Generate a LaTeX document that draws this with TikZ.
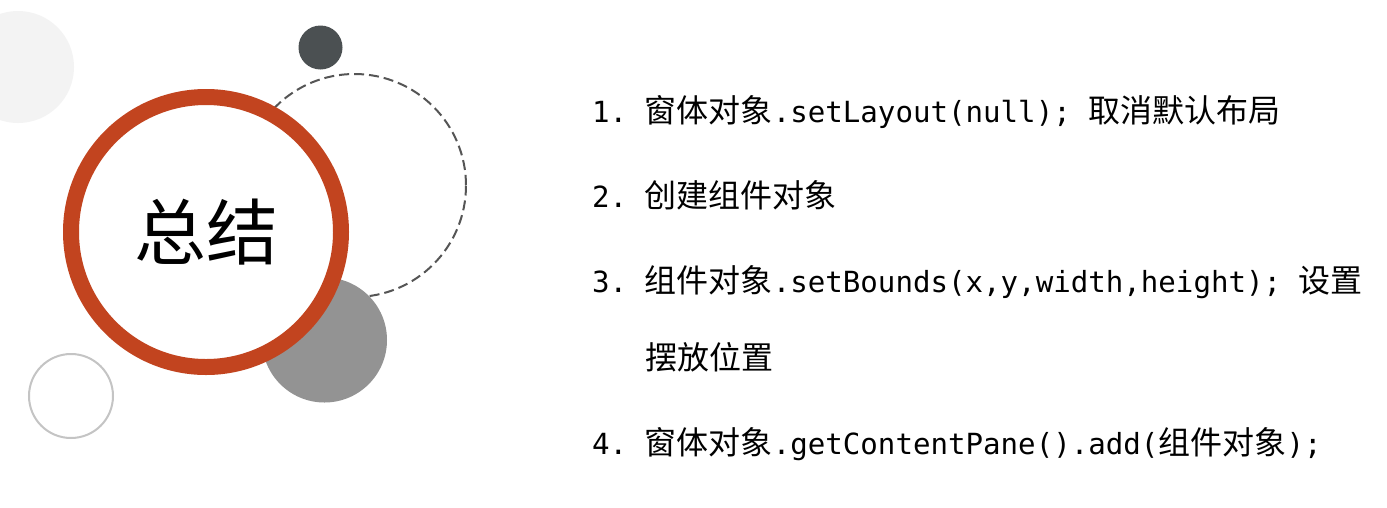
\documentclass[tikz,border=0pt]{standalone}
\usepackage{fontspec}
\setmonofont{DejaVu Sans Mono}[Scale=0.91]
\newfontfamily\cjk{Noto Sans CJK SC}
\definecolor{rust}{HTML}{C2441F}
\definecolor{darkslate}{HTML}{4B5052}
\definecolor{midgray}{HTML}{939393}
\definecolor{ringgray}{HTML}{C4C4C4}
\definecolor{palegray}{HTML}{F3F3F3}
\definecolor{dashgray}{HTML}{555555}
\begin{document}
\begin{tikzpicture}[x=1pt, y=-1pt,
                    every node/.style={inner sep=0pt},
                    item/.style={anchor=base west, font=\fontsize{32}{32}\selectfont}]
  \useasboundingbox[fill=white] (0,0) rectangle (1387,507);
  \coordinate (pale) at (18, 67);
  \coordinate (dot) at (320.5, 47.5);
  \coordinate (dashed) at (354.5, 185.5);
  \coordinate (grayball) at (324.5, 340);
  \coordinate (hollow) at (71, 396);
  \coordinate (centre) at (206, 232);
  \fill[palegray] (pale) circle (56);
  \draw[dashgray, line width=2pt, dash pattern=on 10pt off 5pt] (dashed) circle (111.5);
  \fill[midgray] (grayball) circle (62.5);
  \fill[darkslate] (dot) circle (22);
  \draw[ringgray, line width=2pt] (hollow) circle (42);
  \draw[rust, line width=16pt, fill=white] (centre) circle (135);
  \node[anchor=base, font=\cjk\fontsize{72}{72}\selectfont] (zongjie) at (206, 259) {总结};
  \node[item] (step1) at (592, 122) {\ttfamily 1. \cjk 窗体对象\ttfamily .setLayout(null); \cjk 取消默认布局};
  \node[item] (step2) at (592, 207) {\ttfamily 2. \cjk 创建组件对象};
  \node[item] (step3) at (592, 292) {\ttfamily 3. \cjk 组件对象\ttfamily .setBounds(x,y,width,height); \cjk 设置};
  \node[item] (step3b) at (645, 369) {\cjk 摆放位置};
  \node[item] (step4) at (592, 454) {\ttfamily 4. \cjk 窗体对象\ttfamily .getContentPane().add(\cjk 组件对象\ttfamily );};
\end{tikzpicture}
\end{document}
